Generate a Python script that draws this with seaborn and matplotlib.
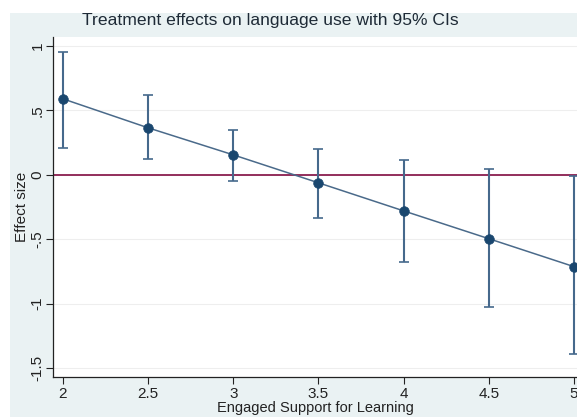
import numpy as np
import pandas as pd
import matplotlib
matplotlib.use("Agg")
import matplotlib.pyplot as plt
import seaborn as sns
from matplotlib.patches import Rectangle

sns.set_style("white")
plt.rcParams['font.family'] = ['Liberation Sans', 'DejaVu Sans']

# values
support = [2, 2.5, 3, 3.5, 4, 4.5, 5]
effect = [0.59, 0.365, 0.155, -0.062, -0.28, -0.496, -0.713]
ci_low = [0.21, 0.12, -0.047, -0.333, -0.675, -1.03, -1.395]
ci_high = [0.955, 0.62, 0.35, 0.20, 0.116, 0.046, -0.012]
xticks = [2, 2.5, 3, 3.5, 4, 4.5, 5]
xtick_labels = ["2", "2.5", "3", "3.5", "4", "4.5", "5"]
yticks = [1, 0.5, 0, -0.5, -1, -1.5]
ytick_labels = ["1", ".5", "0", "-.5", "-1", "-1.5"]

df = pd.DataFrame({"support": support, "effect": effect,
                   "lo": ci_low, "hi": ci_high})

W, H = 577, 417
fig = plt.figure(figsize=(W / 100, H / 100), dpi=100)
fig.patch.set_facecolor("white")
# Stata-like graph region
fig.patches.append(Rectangle((10 / W, 0), 1 - 10 / W, 1 - 13 / H,
                             transform=fig.transFigure, facecolor="#eaf2f3",
                             edgecolor="none", zorder=-5))

ax = fig.add_axes([53 / W, 1 - 377 / H, 1 - 53 / W, (377 - 37) / H])
ax.set_facecolor("white")
ax.set_zorder(1)

navy = "#1a476f"
err_col = "#46698c"

ax.axhline(0, color="#8b1e4f", lw=1.3, zorder=2)
ax.errorbar(df["support"], df["effect"],
            yerr=[df["effect"] - df["lo"], df["hi"] - df["effect"]],
            fmt="none", ecolor=err_col, elinewidth=1.5, capsize=3.6,
            capthick=1.2, zorder=3)
sns.lineplot(data=df, x="support", y="effect", ax=ax, color="#4a6a8a",
             lw=1.1, zorder=4)
sns.scatterplot(data=df, x="support", y="effect", ax=ax, color=navy,
                s=48, edgecolor=navy, linewidth=0.5, zorder=5)

ax.set_xlim(1.942, 5.018)
ax.set_ylim(-1.57, 1.07)
ax.set_xticks(xticks)
ax.set_xticklabels(xtick_labels, fontsize=11)
ax.set_yticks(yticks)
ax.set_yticklabels(ytick_labels, fontsize=11, rotation=90, va="center")
ax.yaxis.grid(True, color="#eeeeee", lw=0.8)
ax.set_axisbelow(True)
ax.tick_params(axis="both", direction="out", length=5, width=0.8,
               color="#222222", labelcolor="#222222", pad=2,
               left=True, bottom=True)
ax.tick_params(axis="y", pad=1)

for s in ["top", "right"]:
    ax.spines[s].set_visible(False)
for s in ["left", "bottom"]:
    ax.spines[s].set_color("#222222")
    ax.spines[s].set_linewidth(0.9)

ax.set_xlabel("Engaged Support for Learning", fontsize=10.5,
              color="#222222", labelpad=0)
ax.set_ylabel("Effect size", fontsize=11, color="#222222", labelpad=1)

fig.text(270 / W, 1 - 21 / H, "Treatment effects on language use with 95% CIs",
         ha="center", va="center", fontsize=12.6, color="#1e2a36")

fig.savefig("out.png", dpi=100, facecolor=fig.get_facecolor())
